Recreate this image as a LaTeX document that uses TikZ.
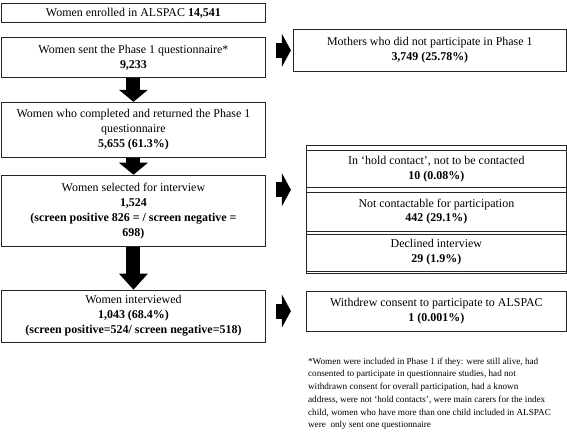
\documentclass[tikz,border=0pt]{standalone}
\usepackage{fontspec}
\setmainfont{Liberation Serif}
\usetikzlibrary{arrows.meta, positioning, calc}

\begin{document}
\begin{tikzpicture}[
    x=1bp, y=1bp,
    node distance=14bp,
    box/.style={rectangle, draw=black!85, line width=0.9bp, align=center, inner sep=1bp, minimum width=264bp, font=\fontsize{12}{15}\selectfont},
    cell/.style={box, minimum width=260bp},
    note/.style={align=left, inner sep=2bp, font=\fontsize{9.2}{12.8}\selectfont},
    downarrow/.style={line width=14bp, -{Triangle[width=29bp, length=12bp, line width=0pt]}},
    sidearrow/.style={line width=15bp, -{Triangle[width=33bp, length=9bp, line width=0pt]}}
]
\useasboundingbox (0,0) rectangle (567,-432);

% Main column
\node[box, minimum height=19bp, anchor=north west] (enrolled) at (1,-3) {Women enrolled in ALSPAC \textbf{14,541}};
\node[box, minimum height=40bp, below=14bp of enrolled] (sent) {Women sent the Phase 1 questionnaire*\\\textbf{9,233}};
\node[box, minimum height=55bp, below=24bp of sent] (completed) {Women who completed and returned the Phase 1\\questionnaire\\\textbf{5,655 (61.3\%)}};
\node[box, minimum height=71bp, below=17bp of completed] (selected) {Women selected for interview\\\textbf{1,524}\\\textbf{(screen positive 826 = / screen negative =}\\\textbf{698)}};
\node[box, minimum height=52bp, below=43bp of selected] (interviewed) {Women interviewed\\\textbf{1,043 (68.4\%)}\\\textbf{(screen positive=524/ screen negative=518)}};

% Exclusions
\node[box, minimum width=273bp, minimum height=42bp, anchor=north west] (mothers) at ([xshift=27bp, yshift=8bp]sent.north east) {Mothers who did not participate in Phase 1\\\textbf{3,749 (25.78\%)}};
\node[cell, minimum height=128bp, anchor=north west] (group) at ([xshift=40bp, yshift=30bp]selected.north east) {};
\node[cell, minimum height=37bp, below=5bp of group.north] (hold) {In `hold contact', not to be contacted\\\textbf{10 (0.08\%)}};
\node[cell, minimum height=39bp, below=4bp of hold] (notcontact) {Not contactable for participation\\\textbf{442 (29.1\%)}};
\node[cell, minimum height=37bp, below=2bp of notcontact] (declined) {Declined interview\\\textbf{29 (1.9\%)}};
\node[cell, minimum height=40bp, below=17bp of group] (withdrew) {Withdrew consent to participate to ALSPAC\\\textbf{1 (0.001\%)}};

% Footnote
\node[note, anchor=north west] (footnote) at ([yshift=-24bp]withdrew.south west) {*Women were included in Phase 1 if they: were still alive, had\\consented to participate in questionnaire studies, had not\\withdrawn consent for overall participation, had a known\\address, were not `hold contacts', were main carers for the index\\child, women who have more than one child included in ALSPAC\\were~ only sent one questionnaire};

% Arrows
\draw[downarrow] (sent) -- (completed);
\draw[downarrow] (completed) -- (selected);
\draw[downarrow, -{Triangle[width=29bp, length=16bp, line width=0pt]}] (selected) -- (interviewed);
\coordinate (selarrow) at ([yshift=-15bp]selected.north east);
\draw[sidearrow, shorten <=10bp, shorten >=2bp] (sent.east |- mothers.west) -- (mothers.west);
\draw[sidearrow, shorten <=10bp, shorten >=15bp] (selarrow) -- (selarrow -| group.west);
\draw[sidearrow, shorten <=10bp, shorten >=15bp] (interviewed.east |- withdrew.west) -- (withdrew.west);

\end{tikzpicture}
\end{document}
